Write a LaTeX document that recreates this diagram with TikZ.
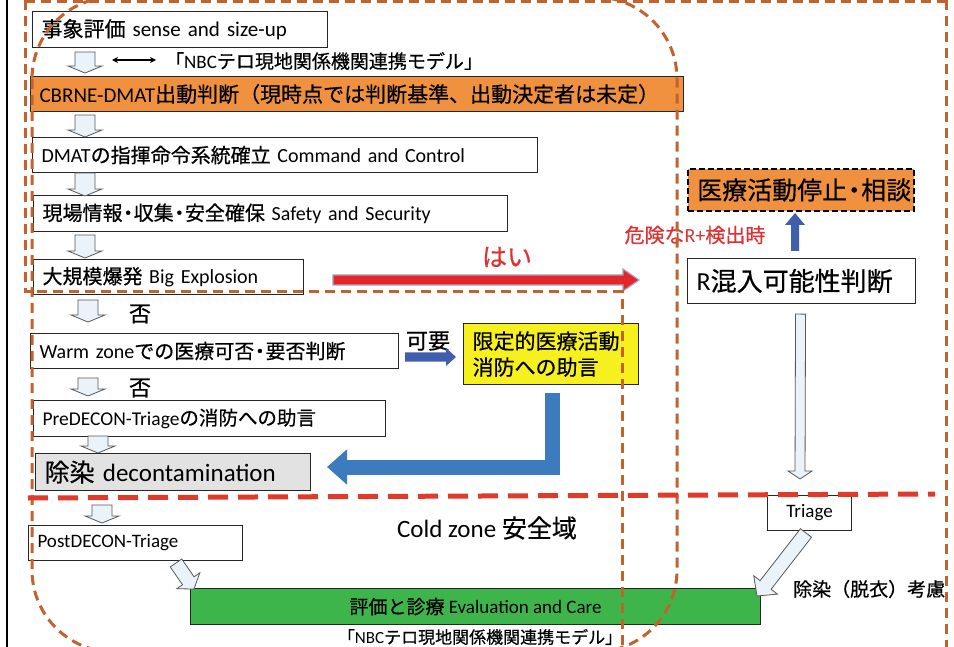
\documentclass[tikz,border=0pt]{standalone}
\usepackage{fontspec}
\setmainfont{Carlito}
\newfontfamily\jp{Noto Sans CJK JP}[FakeBold=0.6]
\usetikzlibrary{calc,arrows.meta}
\definecolor{zoneor}{HTML}{C4622D}
\definecolor{zonered}{HTML}{E03A2A}
\definecolor{boxor}{HTML}{F0913F}
\definecolor{boxyel}{HTML}{F6F01E}
\definecolor{boxgrn}{HTML}{3DB54A}
\definecolor{boxgray}{HTML}{E2E2E2}
\definecolor{arrfill}{HTML}{EAF2FA}
\definecolor{bluedk}{HTML}{3F5FAE}
\definecolor{bluest}{HTML}{3C7BBE}
\definecolor{redarr}{HTML}{E4262A}
\definecolor{redtxt}{HTML}{E03030}
\newcommand{\fs}[2]{\fontsize{#1}{#2}\selectfont}
\newcommand{\nk}{\kern-0.22em・\kern-0.22em}
% block arrow: style, start, end, shaft half width, head half width, head length
\newcommand{\blk}[6]{%
  \path[#1] let \p1=(#2), \p2=(#3), \n1={atan2(\y2-\y1,\x2-\x1)}, \n2={veclen(\x2-\x1,\y2-\y1)} in
  [shift={(\x1,\y1)}, rotate=\n1]
  (0pt,{-#4*1pt}) -- ({(\n2-#6)*1pt},{-#4*1pt}) -- ({(\n2-#6)*1pt},{-#5*1pt}) -- ({\n2*1pt},0pt)
  -- ({(\n2-#6)*1pt},{#5*1pt}) -- ({(\n2-#6)*1pt},{#4*1pt}) -- (0pt,{#4*1pt}) -- cycle;}
\begin{document}
\begin{tikzpicture}[x=1pt,y=-1pt,
  box/.style={draw=black!85, line width=1.1pt, fill=white, anchor=north west, inner xsep=9pt, inner ysep=0pt, align=left},
  lbl/.style={inner sep=0pt},
  hollow/.style={draw=black!65, fill=arrfill, line width=0.8pt, line join=miter},
  zone/.style={draw=zoneor, line width=3pt, dash pattern=on 10pt off 6pt},
  redzone/.style={draw=zonered, line width=5pt, dash pattern=on 20pt off 10pt},
]
\useasboundingbox (0,0) rectangle (954,647);
\fill[white] (0,0) rectangle (954,647);
\draw[black, line width=1.5pt] (7,0) -- (7,647);

% left column boxes
\node[box, text width=277pt, minimum height=36pt, font=\fs{21}{25}] (n1) at (32,11) {{\jp 事象評価} sense and size-up};
\node[box, fill=boxor, text width=635pt, minimum height=35pt, font=\fs{21}{25}] (n2) at (30,76) {CBRNE-DMAT{\jp 出動判断（現時点では判断基準、出動決定者は未定）}};
\node[box, text width=487pt, minimum height=35pt, font=\fs{20}{24}] (n3) at (32,137) {DMAT{\jp の指揮命令系統確立} Command and Control};
\node[box, text width=456pt, minimum height=36pt, font=\fs{20}{24}] (n4) at (33,195) {{\jp 現場情報\nk 収集\nk 安全確保} Safety and Security};
\node[box, text width=252pt, minimum height=35pt, font=\fs{20}{24}] (n5) at (33,259) {{\jp 大規模爆発} Big Explosion};
\node[box, text width=350pt, minimum height=35pt, font=\fs{20}{24}] (n6) at (30,333) {Warm zone{\jp での医療可否\nk 要否判断}};
\node[box, fill=boxyel, text width=157pt, minimum height=61pt, font=\fs{21}{26}\jp] (n7) at (463,323) {限定的医療活動\\消防への助言};
\node[box, text width=334pt, minimum height=36pt, font=\fs{19.5}{24}] (n8) at (33,400) {PreDECON-Triage{\jp の消防への助言}};
\node[box, fill=boxgray, text width=257pt, minimum height=37pt, font=\fs{25}{30}] (n9) at (35,453) {{\jp 除染} decontamination};
\node[box, text width=196pt, minimum height=35pt, font=\fs{19}{23}] (n10) at (28,525) {PostDECON-Triage};
\node[box, fill=boxgrn, minimum width=570pt, minimum height=36pt, align=center, font=\fs{19}{23}] (n11) at (190,588) {{\jp 評価と診療} Evaluation and Care};

% right column
\node[box, fill=boxor, draw=black, dash pattern=on 6pt off 3pt, line width=2pt, minimum width=226pt, minimum height=42pt] (n12) at (687,168) {};
\node[lbl, anchor=west, font=\fs{25}{30}\jp] (t12) at ($(n12.west)+(10,0)$) {医療活動停止\nk 相談};
\node[box, text width=210pt, minimum height=45pt, font=\fs{26}{30}] (n13) at (687,258) {R{\jp 混入可能性判断}};
\node[box, minimum width=84pt, minimum height=35pt, align=center, font=\fs{19}{23}] (n14) at (767,495) {Triage};

% labels
\node[lbl, anchor=west, font=\fs{19}{23}] (t1) at (165,61) {{\jp 「}NBC{\jp テロ現地関係機関連携モデル」}};
\node[lbl, font=\fs{25}{29}\jp, text=redtxt] (hai) at (507,257) {はい};
\node[lbl, font=\fs{22}{26}\jp] (no1) at (140,314) {否};
\node[lbl, font=\fs{22}{26}\jp] (no2) at (140,388) {否};
\node[lbl, font=\fs{22}{26}\jp] (kayo) at (428,341) {可要};
\node[lbl, font=\fs{20}{24}, text=redtxt] (kiken) at (695,235) {{\jp 危険な}R+{\jp 検出時}};
\node[lbl, font=\fs{25}{30}] (cold) at (487,528) {Cold zone {\jp 安全域}};
\node[lbl, anchor=west, font=\fs{19}{23}\jp] (josen) at (793,589) {除染（脱衣）考慮};
\node[lbl, font=\fs{17}{20}] (t2) at (480,637) {{\jp 「}NBC{\jp テロ現地関係機関連携モデル」}};

% small hollow down arrows
\coordinate (a1s) at (85,52);  \coordinate (a1e) at (85,73);
\coordinate (a2s) at (85,115); \coordinate (a2e) at (85,137);
\coordinate (a3s) at (85,173); \coordinate (a3e) at (85,196);
\coordinate (a4s) at (85,235); \coordinate (a4e) at (85,258);
\coordinate (a5s) at (88,300); \coordinate (a5e) at (88,322);
\coordinate (a6s) at (88,378); \coordinate (a6e) at (88,396);
\coordinate (a7s) at (98,436); \coordinate (a7e) at (98,453);
\coordinate (a8s) at (102,505); \coordinate (a8e) at (102,523);
\foreach \i in {1,...,8}{\blk{hollow}{a\i s}{a\i e}{10}{17}{7}}

% double arrow to model text
\coordinate (dl) at (112,60);
\draw[{Stealth[length=6pt,width=6pt]}-{Stealth[length=6pt,width=6pt]}, line width=1.2pt] (dl) -- ($(t1.west)+(-9,-1)$);

% red "yes" arrow
\coordinate (rs) at (333,280);
\coordinate (re) at (639,280);
\blk{fill=redarr, draw=blue!20!gray!60, line width=1.2pt}{rs}{re}{5}{11}{16}

% blue arrow 可要
\coordinate (bs) at (405,357);
\coordinate (be) at (456,357);
\blk{fill=bluedk}{bs}{be}{4.5}{9}{10}

% blue up arrow
\coordinate (us) at (795,251);
\coordinate (ue) at (795,213);
\blk{fill=bluedk}{us}{ue}{4}{10}{12}

% L-shaped blue arrow
\coordinate (Ls) at (552,393);
\coordinate (Lt) at (327,467);
\draw[line width=15pt, bluest, line join=miter, -{Triangle[length=20pt,width=34pt]}] (Ls) |- (Lt);

% long down arrow
\coordinate (ls) at ($(n13.south)+(-1,10)$);
\coordinate (le) at (800,479);
\blk{hollow}{ls}{le}{5}{12}{8}

% diagonal arrows
\coordinate (d1s) at (806,533);
\coordinate (d1e) at (757,596);
\blk{hollow}{d1s}{d1e}{7}{15}{14}
\coordinate (d2s) at (176,563);
\coordinate (d2e) at (194,589);
\blk{hollow}{d2s}{d2e}{7}{14}{10}

% zones
\begin{scope}
\clip (0,0) rectangle (954,647);
\draw[zone, rounded corners=82pt] (32,-3) rectangle (677,652);
\draw[zone] (25,1.5) -- (946,1.5);
\draw[zone] (25,0) -- (25,292) -- (622,292) -- (622,647);
\draw[zone] (946,0) -- (946,647);
\draw[redzone] (28,498) -- (935,494);
\end{scope}
\end{tikzpicture}
\end{document}
